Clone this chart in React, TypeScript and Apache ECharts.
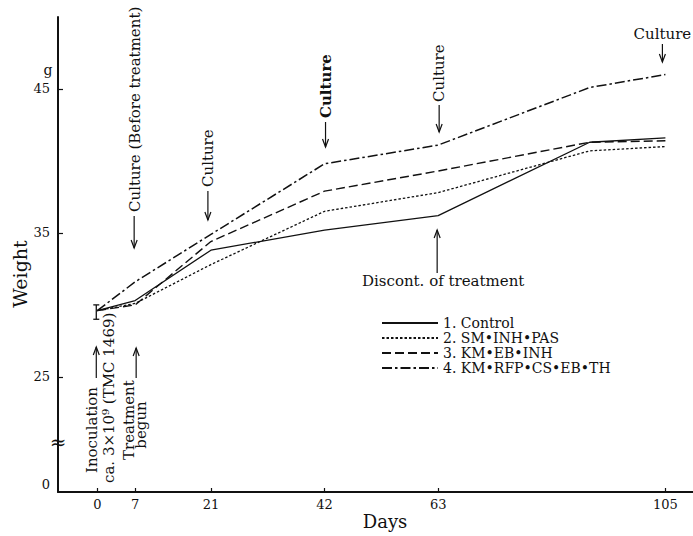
import React, { useEffect, useRef } from "react";
import * as echarts from "echarts";

// Days after inoculation at which body weight was recorded
const days = [0, 7, 21, 42, 63, 91, 105];
// Mean body weight (g) per group
const control = [29.6, 30.3, 33.8, 35.2, 36.2, 41.3, 41.6];
const smInhPas = [29.6, 30.1, 32.8, 36.5, 37.8, 40.7, 41.0];
const kmEbInh = [29.6, 30.0, 34.4, 37.9, 39.3, 41.3, 41.4];
const kmRfpCsEbTh = [29.6, 31.6, 34.9, 39.8, 41.1, 45.1, 46.0];
const seriesNames = ["1. Control", "2. SM•INH•PAS", "3. KM•EB•INH", "4. KM•RFP•CS•EB•TH"];
// Axis ticks
const xTicks = [0, 7, 21, 42, 63, 105];
const yTicks = [25, 35, 45];
const yBase = 17; // bottom of the broken weight axis, labelled "0"
// Spread of the starting weights at day 0: [day, low, high]
const startRange = [0, 29.0, 30.0];

const F = "DejaVu Serif";
const INK = "#111";

export default function App() {
  const ref = useRef<HTMLDivElement>(null);

  useEffect(() => {
    if (!ref.current) return;
    const chart = echarts.init(ref.current, undefined, { renderer: "svg" });
    const groups = [control, smInhPas, kmEbInh, kmRfpCsEbTh];
    const dashes: any[] = ["solid", [2.5, 2], [9, 4], [10, 3, 2.5, 3]];
    const widths = [1.3, 1.3, 1.4, 1.5];

    chart.setOption({
      animation: false,
      backgroundColor: "#fff",
      grid: { left: 58, right: 0, top: 17, bottom: 44, containLabel: false },
      legend: {
        orient: "vertical",
        left: 376,
        top: 311,
        itemWidth: 56,
        itemHeight: 8,
        itemGap: 1,
        data: seriesNames,
        itemStyle: { opacity: 0 },
        textStyle: { fontFamily: F, fontSize: 14, color: INK, lineHeight: 14 },
        inactiveColor: "#ccc",
      },
      xAxis: {
        type: "value",
        min: -7.26,
        max: 110.1,
        axisLine: { show: true, onZero: false, lineStyle: { color: INK, width: 2 } },
        axisTick: { show: true, inside: true, length: 4, customValues: xTicks, lineStyle: { color: INK, width: 1.2 } },
        axisLabel: { customValues: xTicks, fontFamily: F, fontSize: 13, color: INK, margin: 6 },
        splitLine: { show: false },
      },
      yAxis: {
        type: "value",
        min: yBase,
        max: 50,
        axisLine: { show: true, onZero: false, lineStyle: { color: INK, width: 2 } },
        axisTick: { show: true, inside: true, length: 5, customValues: yTicks, lineStyle: { color: INK, width: 1.2 } },
        axisLabel: {
          customValues: [yBase, ...yTicks],
          fontFamily: F,
          fontSize: 13,
          color: INK,
          margin: 8,
          formatter: (v: number) => (v === yBase ? "{z|0}" : String(v)),
          rich: { z: { fontFamily: F, fontSize: 13, color: INK, padding: [0, 0, 16, 0] } },
        },
        splitLine: { show: false },
      },
      series: [
        ...groups.map((vals, i) => ({
          name: seriesNames[i],
          type: "line",
          symbol: "none",
          data: days.map((d, j) => [d, vals[j]]),
          lineStyle: { color: INK, width: widths[i], type: dashes[i] },
          itemStyle: { color: INK },
        })),
        {
          type: "custom",
          silent: true,
          data: [startRange],
          encode: { x: 0, y: [1, 2] },
          renderItem: (params: any, api: any) => {
            const lo = api.coord([api.value(0), api.value(1)]);
            const hi = api.coord([api.value(0), api.value(2)]);
            const x = lo[0] - 1;
            const st = { stroke: INK, lineWidth: 1.3 };
            return {
              type: "group",
              children: [
                { type: "line", shape: { x1: x, y1: lo[1], x2: x, y2: hi[1] }, style: st },
                { type: "line", shape: { x1: x - 3, y1: lo[1], x2: x + 3, y2: lo[1] }, style: st },
                { type: "line", shape: { x1: x - 3, y1: hi[1], x2: x + 3, y2: hi[1] }, style: st },
              ],
            };
          },
        },
      ],
    });

    const px = (d: number) => chart.convertToPixel({ xAxisIndex: 0 }, d) as number;
    const vtext = (x: number, y: number, text: string, size = 15, weight = "normal", align = "left") => ({
      type: "text",
      x,
      y,
      rotation: Math.PI / 2,
      silent: true,
      style: { text, fontSize: size, fontFamily: F, fontWeight: weight, fill: INK, align, verticalAlign: "middle" },
    });
    const htext = (x: number, y: number, text: string, size = 15, align = "center") => ({
      type: "text",
      x,
      y,
      silent: true,
      style: { text, fontSize: size, fontFamily: F, fill: INK, align, verticalAlign: "middle" },
    });
    const arrow = (x: number, y1: number, y2: number) => {
      const dir = y2 > y1 ? 1 : -1;
      return {
        type: "group",
        silent: true,
        children: [
          { type: "line", shape: { x1: x, y1, x2: x, y2 }, style: { stroke: INK, lineWidth: 1.2 } },
          {
            type: "polyline",
            shape: { points: [[x - 3, y2 - dir * 8], [x, y2], [x + 3, y2 - dir * 8]] },
            style: { stroke: INK, lineWidth: 1.2, fill: "none" },
          },
        ],
      };
    };

    const x0 = px(0), x7 = px(7), x21 = px(21), x42 = px(42), x63 = px(63), x105 = px(105);

    chart.setOption({
      graphic: [
        // axis decorations
        htext(48, 70, "g", 14),
        { type: "rect", shape: { x: 55, y: 437, width: 6, height: 10 }, style: { fill: "#fff" }, silent: true },
        htext(58, 442, "≈", 20),
        vtext(20, 274, "Weight", 19, "normal", "center"),
        htext(385, 521, "Days", 18),
        // cultures
        vtext(x7, 212, "Culture (Before treatment)", 15),
        arrow(x7 - 1, 216, 248),
        vtext(x21 - 3, 187, "Culture", 15),
        arrow(x21 - 3, 191, 220),
        vtext(x42 + 1, 118, "Culture", 15, "bold"),
        arrow(x42 + 1, 122, 147),
        vtext(x63 + 1, 102, "Culture", 15),
        arrow(x63 + 1, 105, 132),
        htext(x105 - 3, 34, "Culture", 15),
        arrow(x105 - 3, 44, 62),
        // discontinuation
        arrow(x63 - 1, 273, 230),
        htext(x63 + 5, 281, "Discont. of treatment", 15),
        // inoculation & treatment start
        vtext(x0 - 5, 473, "Inoculation", 15),
        arrow(x0 - 1, 378, 347),
        vtext(x0 + 12, 483, "ca. 3×10⁹ (TMC 1469)", 15),
        vtext(x7 - 6, 460, "Treatment", 15),
        arrow(x7 + 1, 378, 348),
        vtext(x7 + 6, 425, "begun", 15, "normal", "center"),
      ],
    });

    return () => chart.dispose();
  }, []);

  return (
    <div
      ref={ref}
      style={{ position: "fixed", left: 0, top: 0, width: 693, height: 536, background: "#fff" }}
    />
  );
}
